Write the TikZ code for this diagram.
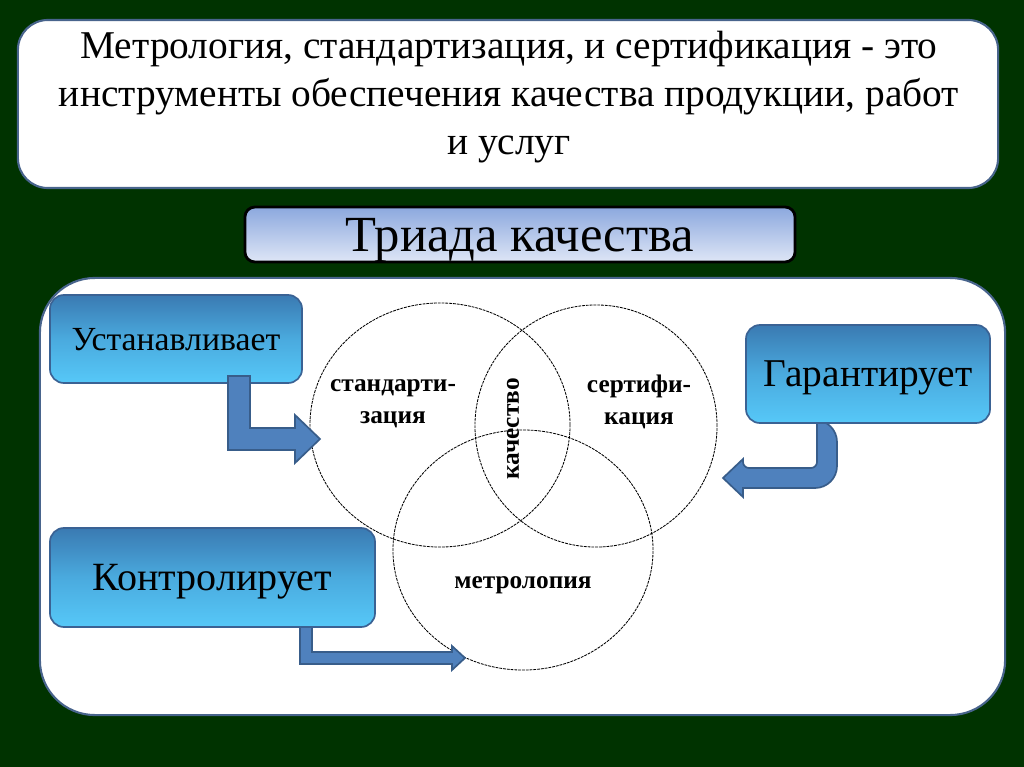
\documentclass[tikz,border=0pt]{standalone}
\usepackage{fontspec}
\setmainfont{Liberation Serif}
\usepackage{tikz}
\usetikzlibrary{positioning,calc,shapes.geometric}

\definecolor{slidegreen}{RGB}{0,51,0}
\definecolor{panelline}{RGB}{72,100,140}
\definecolor{btntop}{RGB}{58,122,178}
\definecolor{btnmid}{RGB}{74,170,222}
\definecolor{btnbot}{RGB}{86,200,248}
\definecolor{btnline}{RGB}{58,98,148}
\definecolor{titletop}{RGB}{140,168,222}
\definecolor{titlebot}{RGB}{222,230,246}
\definecolor{arrfill}{RGB}{79,129,189}
\definecolor{arrline}{RGB}{56,93,138}

\begin{document}
\begin{tikzpicture}[
    x=0.025cm, y=-0.025cm,
    panel/.style={rectangle, draw=panelline, line width=1.5pt, fill=white},
    titlebox/.style={rectangle, draw=black, line width=2pt, rounded corners=0.25cm, top color=titletop, bottom color=titlebot, minimum width=13.75cm, minimum height=1.375cm},
    verb/.style={rectangle, draw=btnline, line width=1.2pt, rounded corners=0.35cm, top color=btntop, bottom color=btnbot, middle color=btnmid, text=black, text depth=0pt},
    venn/.style={ellipse, draw, line width=0.6pt, dash pattern=on 2pt off 0.7pt, inner sep=0pt},
    vlab/.style={font=\fontsize{18}{23}\selectfont\bfseries, align=center},
    blockarr/.style={draw=arrline, line width=1.2pt, fill=arrfill, line join=miter}
]
% ============================================================
% SLIDE BACKGROUND
% ============================================================
\useasboundingbox (0,0) rectangle (1024,767);
\fill[slidegreen] (0,0) rectangle (1024,767);

% ============================================================
% HEADER PANELS
% ============================================================
\node[panel, rounded corners=0.75cm, minimum width=24.5cm, minimum height=4.2cm] (claim) at (508,104) {};
\node[font=\fontsize{28}{34}\selectfont, align=center] (claimtxt) at (509,97)
    {Метрология, стандартизация, и сертификация - это\\инструменты обеспечения качества продукции, работ\\и услуг};

\node[titlebox] (triad) at (520,234.5) {};
\node[font=\fontsize{36}{40}\selectfont] (triadtxt) at (520,240) {Триада качества};

\node[panel, rounded corners=1.375cm, minimum width=24.125cm, minimum height=10.925cm] (field) at (522.5,496.5) {};

% ============================================================
% VENN CIRCLES
% ============================================================
\node[venn, minimum width=6.5cm,  minimum height=6.1cm]  (stdc)  at (440,425) {};
\node[venn, minimum width=6.05cm, minimum height=6.05cm] (certc) at (596,426) {};
\node[venn, minimum width=6.5cm,  minimum height=6cm]    (metc)  at (523,550) {};

\node[vlab] (stdlab)  at (393,404) {стандарти-\\зация};
\node[vlab] (certlab) at (639,402) {сертифи-\\кация};
\node[vlab, rotate=90] (qlab) at (513,429) {качество};
\node[vlab] (metlab)  at (523,585) {метролопия};

% ============================================================
% ACTION BOXES + BENT ARROWS
% ============================================================
\coordinate (arrS2) at (827,420);
\coordinate (arrT2) at (723,478);
\draw[blockarr] ($(arrS2)+(-10,0)$) [rounded corners=0.15cm] -- ($(arrS2|-arrT2)+(-10,-10)$)
    -- ($(arrT2)+(20,-10)$) [sharp corners] -- ($(arrT2)+(20,-19)$) -- (arrT2)
    -- ($(arrT2)+(20,19)$) -- ($(arrT2)+(20,10)$) [rounded corners=0.55cm]
    -- ($(arrS2|-arrT2)+(10,10)$) -- ($(arrS2)+(10,0)$) [sharp corners] -- cycle;

\coordinate (arrS3) at (306,620);
\coordinate (arrT3) at (465,658);
\draw[blockarr] ($(arrS3)+(-6,0)$) -- ($(arrS3|-arrT3)+(-6,6)$) -- ($(arrT3)+(-13,6)$)
    -- ($(arrT3)+(-13,12)$) -- (arrT3) -- ($(arrT3)+(-13,-12)$) -- ($(arrT3)+(-13,-6)$)
    -- ($(arrS3|-arrT3)+(6,-6)$) -- ($(arrS3)+(6,0)$) -- cycle;

\node[verb, minimum width=6.3cm,   minimum height=2.2cm,   font=\fontsize{24}{28}\selectfont]   (setbox)  at (176,339)     {Устанавливает};
\node[verb, minimum width=6.1cm,   minimum height=2.45cm,  font=\fontsize{28}{32}\selectfont]   (guarbox) at (868,374)     {Гарантирует};
\node[verb, minimum width=8.125cm, minimum height=2.475cm, font=\fontsize{28.5}{32}\selectfont] (ctrlbox) at (212.5,577.5) {Контролирует};

\coordinate (arrS1) at (239,376);
\coordinate (arrT1) at (320,439);
\draw[blockarr] ($(arrS1)+(-11,0)$) -- ($(arrS1|-arrT1)+(-11,11)$) -- ($(arrT1)+(-25,11)$)
    -- ($(arrT1)+(-25,24)$) -- (arrT1) -- ($(arrT1)+(-25,-24)$) -- ($(arrT1)+(-25,-11)$)
    -- ($(arrS1|-arrT1)+(11,-11)$) -- ($(arrS1)+(11,0)$) -- cycle;

\end{tikzpicture}
\end{document}
